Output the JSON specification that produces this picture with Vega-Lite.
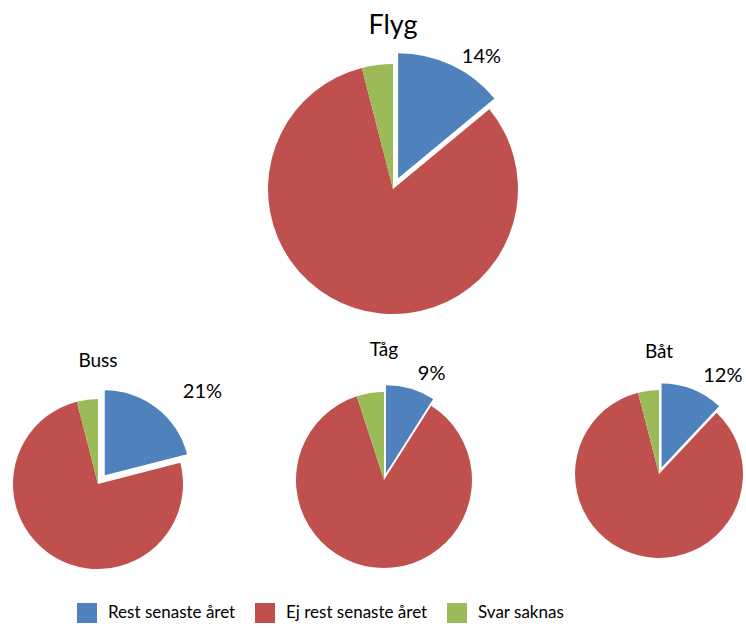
{
  "$schema": "https://vega.github.io/schema/vega-lite/v6.json",
  "padding": {"top": 12, "left": 0, "right": 0, "bottom": 0},
  "spacing": 7,
  "config": {
    "view": {"stroke": null},
    "font": "Lato",
    "title": {"fontWeight": "normal", "color": "black", "font": "Lato"},
    "legend": {"title": null, "orient": "none", "legendX": 77, "legendY": 559, "direction": "horizontal", "symbolType": "square", "symbolSize": 400, "symbolStrokeWidth": 0, "labelFontSize": 17, "labelFont": "Lato", "labelColor": "black", "columnPadding": 19, "labelOffset": 11}
  },
  "datasets": {
    "pies": [
      {"mode": "Flyg", "cat": "Rest senaste året", "ord": 1, "v": 14},
      {"mode": "Flyg", "cat": "Ej rest senaste året", "ord": 2, "v": 82},
      {"mode": "Flyg", "cat": "Svar saknas", "ord": 3, "v": 4},
      {"mode": "Buss", "cat": "Rest senaste året", "ord": 1, "v": 21},
      {"mode": "Buss", "cat": "Ej rest senaste året", "ord": 2, "v": 75},
      {"mode": "Buss", "cat": "Svar saknas", "ord": 3, "v": 4},
      {"mode": "Tåg", "cat": "Rest senaste året", "ord": 1, "v": 9},
      {"mode": "Tåg", "cat": "Ej rest senaste året", "ord": 2, "v": 86},
      {"mode": "Tåg", "cat": "Svar saknas", "ord": 3, "v": 5},
      {"mode": "Båt", "cat": "Rest senaste året", "ord": 1, "v": 12},
      {"mode": "Båt", "cat": "Ej rest senaste året", "ord": 2, "v": 84},
      {"mode": "Båt", "cat": "Svar saknas", "ord": 3, "v": 4}
    ]
  },
  "vconcat": [
    {
      "bounds": "flush",
      "spacing": 0,
      "hconcat": [
        {
          "width": 40,
          "height": 290,
          "data": {"values": []},
          "mark": {"type": "point", "opacity": 0},
          "encoding": {}
        },
        {
          "width": 706,
          "height": 290,
          "title": {"text": "Flyg", "fontSize": 27, "offset": 4},
          "data": {"name": "pies"},
          "transform": [{"filter": "datum.mode == 'Flyg'"}, {"calculate": "datum.v + '%'", "as": "lbl"}],
          "encoding": {
            "theta": {"field": "v", "type": "quantitative", "stack": true},
            "order": {"field": "ord", "type": "quantitative"}
          },
          "layer": [
            {
              "mark": {"type": "arc", "outerRadius": 125},
              "encoding": {
                "color": {"field": "cat", "type": "nominal", "scale": {"domain": ["Rest senaste året", "Ej rest senaste året", "Svar saknas"], "range": ["#4F81BD", "#C0504D", "#9BBB59"]},
                  "legend": {"encode": {"symbols": {"update": {"fill": {"signal": "datum.value === 'Svar saknas' ? '#70AD47' : (datum.value === 'Rest senaste året' ? '#4F81BD' : '#C0504D')"}}}}}},
                "opacity": {"condition": {"test": "datum.cat == 'Rest senaste året'", "value": 0}, "value": 1}
              }
            },
            {
              "transform": [{"filter": "datum.cat == 'Rest senaste året'"}],
              "mark": {"type": "arc", "outerRadius": 125, "xOffset": {"expr": "12*sin(PI*datum.v/100)"}, "yOffset": {"expr": "-12*cos(PI*datum.v/100)"}},
              "encoding": {"color": {"field": "cat", "type": "nominal"}}
            },
            {
              "transform": [{"filter": "datum.cat == 'Rest senaste året'"}],
              "mark": {"type": "text", "radius": 159, "thetaOffset": 0.15, "fontSize": 20, "color": "black"},
              "encoding": {"text": {"field": "lbl"}}
            }
          ]
        }
      ]
    },
    {
      "bounds": "flush",
      "spacing": 0,
      "hconcat": [
        {
          "width": 196,
          "height": 218,
          "title": {"text": "Buss", "fontSize": 19, "offset": 4},
          "data": {"name": "pies"},
          "transform": [{"filter": "datum.mode == 'Buss'"}, {"calculate": "datum.v + '%'", "as": "lbl"}],
          "encoding": {
            "theta": {"field": "v", "type": "quantitative", "stack": true},
            "order": {"field": "ord", "type": "quantitative"}
          },
          "layer": [
            {
              "mark": {"type": "arc", "outerRadius": 85},
              "encoding": {
                "color": {"field": "cat", "type": "nominal"},
                "opacity": {"condition": {"test": "datum.cat == 'Rest senaste året'", "value": 0}, "value": 1}
              }
            },
            {
              "transform": [{"filter": "datum.cat == 'Rest senaste året'"}],
              "mark": {"type": "arc", "outerRadius": 85, "xOffset": {"expr": "11*sin(PI*datum.v/100)"}, "yOffset": {"expr": "-11*cos(PI*datum.v/100)"}},
              "encoding": {"color": {"field": "cat", "type": "nominal"}}
            },
            {
              "transform": [{"filter": "datum.cat == 'Rest senaste året'"}],
              "mark": {"type": "text", "radius": 139, "thetaOffset": 0.19, "fontSize": 20, "color": "black"},
              "encoding": {"text": {"field": "lbl"}}
            }
          ]
        },
        {
          "width": 376,
          "height": 210,
          "title": {"text": "Tåg", "fontSize": 19, "offset": 4},
          "data": {"name": "pies"},
          "transform": [{"filter": "datum.mode == 'Tåg'"}, {"calculate": "datum.v + '%'", "as": "lbl"}],
          "encoding": {
            "theta": {"field": "v", "type": "quantitative", "stack": true},
            "order": {"field": "ord", "type": "quantitative"}
          },
          "layer": [
            {
              "mark": {"type": "arc", "outerRadius": 88},
              "encoding": {
                "color": {"field": "cat", "type": "nominal"},
                "opacity": {"condition": {"test": "datum.cat == 'Rest senaste året'", "value": 0}, "value": 1}
              }
            },
            {
              "transform": [{"filter": "datum.cat == 'Rest senaste året'"}],
              "mark": {"type": "arc", "outerRadius": 88, "xOffset": {"expr": "7*sin(PI*datum.v/100)"}, "yOffset": {"expr": "-7*cos(PI*datum.v/100)"}},
              "encoding": {"color": {"field": "cat", "type": "nominal"}}
            },
            {
              "transform": [{"filter": "datum.cat == 'Rest senaste året'"}],
              "mark": {"type": "text", "radius": 116, "thetaOffset": 0.14, "fontSize": 20, "color": "black"},
              "encoding": {"text": {"field": "lbl"}}
            }
          ]
        },
        {
          "width": 174,
          "height": 198,
          "title": {"text": "Båt", "fontSize": 19, "offset": 4},
          "data": {"name": "pies"},
          "transform": [{"filter": "datum.mode == 'Båt'"}, {"calculate": "datum.v + '%'", "as": "lbl"}],
          "encoding": {
            "theta": {"field": "v", "type": "quantitative", "stack": true},
            "order": {"field": "ord", "type": "quantitative"}
          },
          "layer": [
            {
              "mark": {"type": "arc", "outerRadius": 84},
              "encoding": {
                "color": {"field": "cat", "type": "nominal"},
                "opacity": {"condition": {"test": "datum.cat == 'Rest senaste året'", "value": 0}, "value": 1}
              }
            },
            {
              "transform": [{"filter": "datum.cat == 'Rest senaste året'"}],
              "mark": {"type": "arc", "outerRadius": 84, "xOffset": {"expr": "7*sin(PI*datum.v/100)"}, "yOffset": {"expr": "-7*cos(PI*datum.v/100)"}},
              "encoding": {"color": {"field": "cat", "type": "nominal"}}
            },
            {
              "transform": [{"filter": "datum.cat == 'Rest senaste året'"}],
              "mark": {"type": "text", "radius": 117, "thetaOffset": 0.2, "fontSize": 20, "color": "black"},
              "encoding": {"text": {"field": "lbl"}}
            }
          ]
        }
      ]
    }
  ]
}
